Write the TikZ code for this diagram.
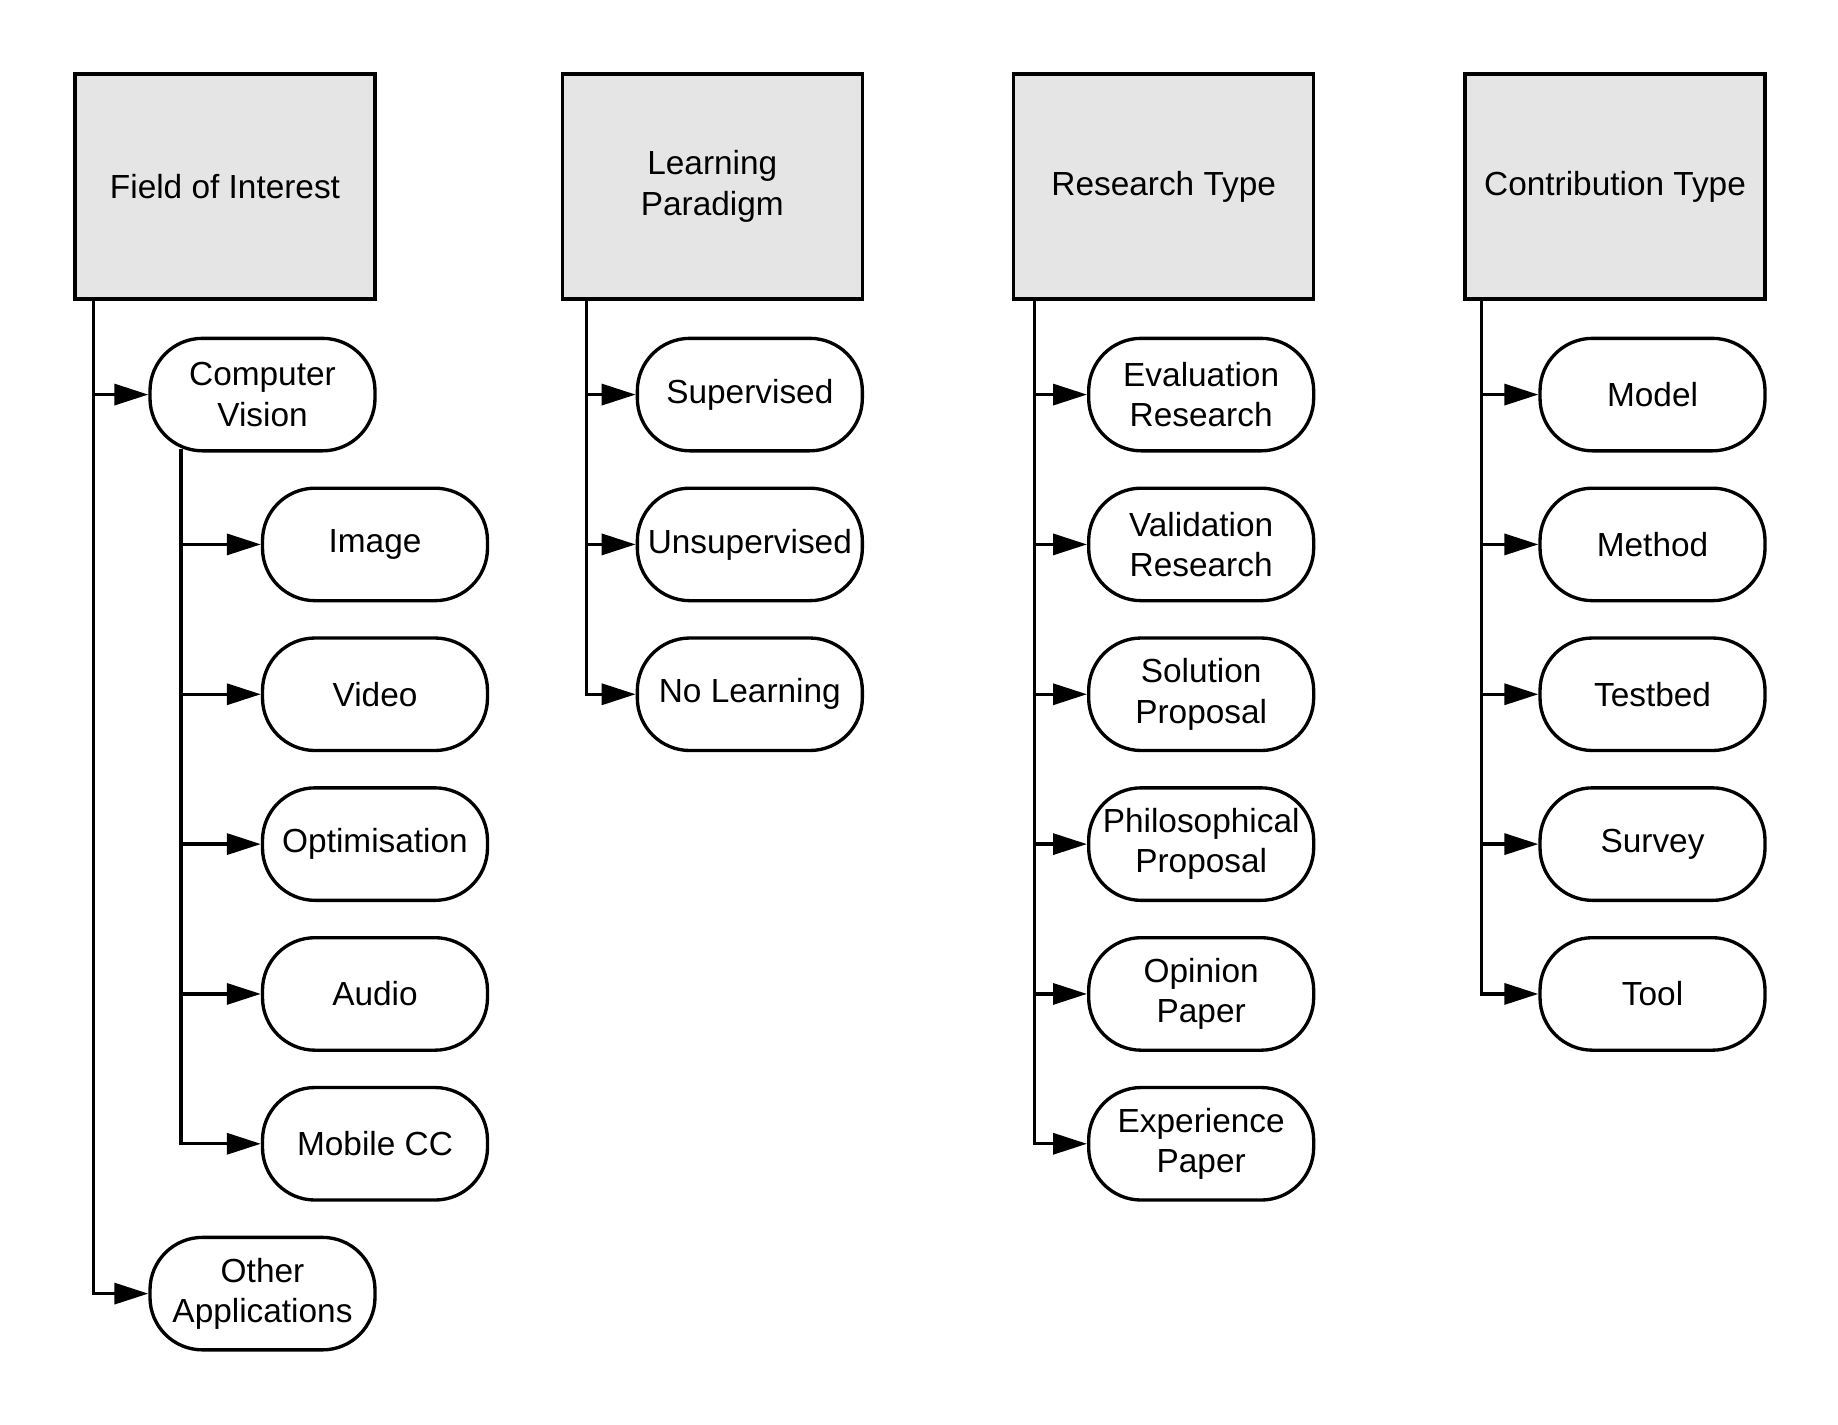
\documentclass[tikz,border=0pt]{standalone}
\usepackage{fontspec}
\setmainfont{Liberation Sans}
\usepackage{xcolor}
\usepackage{tikz}
\usetikzlibrary{positioning,arrows.meta,calc}

\definecolor{headgray}{RGB}{229,229,229}

\begin{document}
\begin{tikzpicture}[
    node distance=0.68cm,
    head/.style={rectangle, draw, fill=headgray, line width=1.9pt, minimum width=6cm, minimum height=4.5cm, align=center, font=\fontsize{19}{23}\selectfont},
    leaf/.style={rectangle, draw, rounded corners=1.05cm, line width=1.9pt, minimum width=4.5cm, minimum height=2.25cm, inner sep=1pt, align=center, font=\fontsize{19}{23}\selectfont},
    arrow/.style={-{Triangle[length=0.68cm,width=0.42cm]}, line width=1.9pt}
]
\useasboundingbox (0,0) rectangle (36.76,-28.5);

% Headers
\node[head] (foi) at (4.5,-3.73) {Field of Interest};
\node[head, right=3.68cm of foi] (lp) {Learning\\Paradigm};
\node[head, right=2.96cm of lp] (rt) {Research Type};
\node[head, right=2.96cm of rt] (ct) {Contribution Type};

% Field of Interest
\node[leaf, anchor=north east] (cv) at ([yshift=-0.72cm]foi.south east) {Computer\\Vision};
\node[leaf, below=of cv, xshift=2.25cm] (img) {Image};
\node[leaf, below=of img] (vid) {Video};
\node[leaf, below=of vid] (opt) {Optimisation};
\node[leaf, below=of opt] (aud) {Audio};
\node[leaf, below=of aud] (mcc) {Mobile CC};
\node[leaf, below=of mcc, xshift=-2.25cm] (oth) {Other\\Applications};

\coordinate (foit) at ([xshift=0.4cm]foi.south west);
\coordinate (cvt) at ([xshift=0.65cm, yshift=0.08cm]cv.south west);
\draw[arrow] (foit) |- (cv.west);
\draw[arrow] (foit) |- (oth.west);
\draw[arrow] (cvt) |- (img.west);
\draw[arrow] (cvt) |- (vid.west);
\draw[arrow] (cvt) |- (opt.west);
\draw[arrow] (cvt) |- (aud.west);
\draw[arrow] (cvt) |- (mcc.west);

% Learning Paradigm
\node[leaf, anchor=north east] (sup) at ([yshift=-0.72cm]lp.south east) {Supervised};
\node[leaf, below=of sup] (uns) {Unsupervised};
\node[leaf, below=of uns] (nol) {No Learning};

\coordinate (lpt) at ([xshift=0.52cm]lp.south west);
\draw[arrow] (lpt) |- (sup.west);
\draw[arrow] (lpt) |- (uns.west);
\draw[arrow] (lpt) |- (nol.west);

% Research Type
\node[leaf, anchor=north east] (eva) at ([yshift=-0.72cm]rt.south east) {Evaluation\\Research};
\node[leaf, below=of eva] (val) {Validation\\Research};
\node[leaf, below=of val] (sol) {Solution\\Proposal};
\node[leaf, below=of sol] (phi) {Philosophical\\Proposal};
\node[leaf, below=of phi] (opi) {Opinion\\Paper};
\node[leaf, below=of opi] (exp) {Experience\\Paper};

\coordinate (rtt) at ([xshift=0.45cm]rt.south west);
\draw[arrow] (rtt) |- (eva.west);
\draw[arrow] (rtt) |- (val.west);
\draw[arrow] (rtt) |- (sol.west);
\draw[arrow] (rtt) |- (phi.west);
\draw[arrow] (rtt) |- (opi.west);
\draw[arrow] (rtt) |- (exp.west);

% Contribution Type
\node[leaf, anchor=north east] (mod) at ([yshift=-0.72cm]ct.south east) {Model};
\node[leaf, below=of mod] (met) {Method};
\node[leaf, below=of met] (tes) {Testbed};
\node[leaf, below=of tes] (sur) {Survey};
\node[leaf, below=of sur] (too) {Tool};

\coordinate (ctt) at ([xshift=0.36cm]ct.south west);
\draw[arrow] (ctt) |- (mod.west);
\draw[arrow] (ctt) |- (met.west);
\draw[arrow] (ctt) |- (tes.west);
\draw[arrow] (ctt) |- (sur.west);
\draw[arrow] (ctt) |- (too.west);

\end{tikzpicture}
\end{document}
